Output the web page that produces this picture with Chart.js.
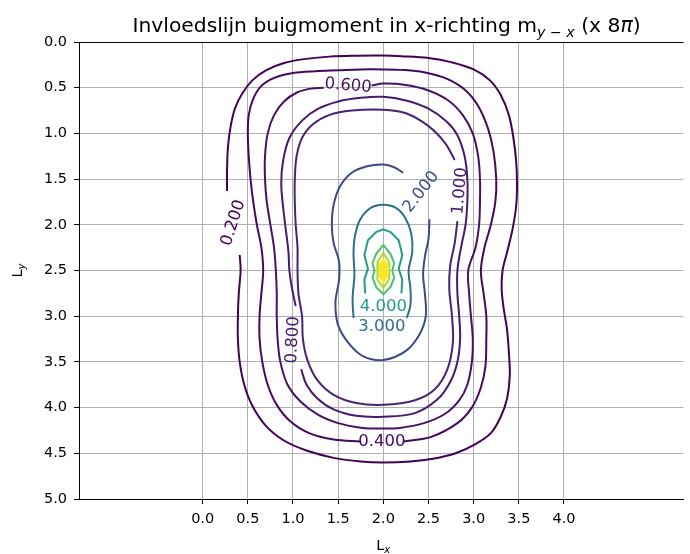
<!DOCTYPE html>
<html>
<head>
<meta charset="utf-8">
<script src="https://cdn.jsdelivr.net/npm/chart.js@4.4.0/dist/chart.umd.min.js"></script>
<style>html,body{margin:0;padding:0;background:#fff;overflow:hidden}</style>
</head>
<body>
<canvas id="chart" width="690" height="554"></canvas>
<script>
// contour levels and their line colours (viridis)
const levels = [0.2, 0.4, 0.6, 0.8, 1.0, 2.0, 3.0, 4.0, 5.0, 6.0, 7.0];
const levelColors = ['#440154', '#46085c', '#471164', '#481a6c', '#482374', '#3e4989', '#2d708e', '#1f9e89', '#4ec36b', '#aadc32', '#fde725'];

// contour paths, [Lx, Ly] pairs, one list per drawn piece
const c020 = [[[0.41,2.33],[0.42,2.5],[0.40,2.75],[0.39,3.0],[0.39,3.25],[0.41,3.5],[0.46,3.75],[0.55,3.98],[0.70,4.2],[0.90,4.36],[1.15,4.47],[1.45,4.55],[1.75,4.59],[2.0,4.6],[2.3,4.59],[2.55,4.56],[2.8,4.5],[3.02,4.4],[3.19,4.28],[3.30,4.1],[3.37,3.9],[3.40,3.65],[3.39,3.4],[3.37,3.15],[3.33,2.9],[3.31,2.7],[3.32,2.5],[3.37,2.3],[3.43,2.05],[3.47,1.8],[3.48,1.55],[3.47,1.3],[3.44,1.05],[3.39,0.8],[3.30,0.58],[3.18,0.42],[3.0,0.3],[2.75,0.22],[2.5,0.175],[2.2,0.155],[2.0,0.148],[1.7,0.15],[1.4,0.16],[1.1,0.19],[0.9,0.23],[0.7,0.31],[0.55,0.42],[0.44,0.56],[0.36,0.72],[0.31,0.92],[0.28,1.15],[0.27,1.4],[0.27,1.63]]];
const c040 = [[[2.22,4.37],[2.53,4.32],[2.82,4.17],[2.98,4.0],[3.08,3.78],[3.13,3.55],[3.14,3.25],[3.14,3.0],[3.11,2.75],[3.08,2.5],[3.12,2.25],[3.19,2.0],[3.24,1.75],[3.25,1.5],[3.22,1.2],[3.16,0.95],[3.05,0.7],[2.9,0.52],[2.7,0.4],[2.45,0.33],[2.2,0.305],[2.0,0.3],[1.75,0.3],[1.5,0.31],[1.25,0.32],[1.0,0.34],[0.8,0.39],[0.65,0.48],[0.56,0.62],[0.51,0.8],[0.5,1.0],[0.51,1.25],[0.53,1.5],[0.56,1.75],[0.6,2.0],[0.65,2.25],[0.67,2.5],[0.65,2.75],[0.63,3.0],[0.63,3.25],[0.66,3.5],[0.72,3.75],[0.82,3.97],[0.97,4.15],[1.18,4.28],[1.45,4.35],[1.75,4.37]]];
const c060 = [[[1.87,0.475],[2.0,0.455],[2.25,0.47],[2.5,0.53],[2.72,0.64],[2.88,0.8],[2.99,1.0],[3.05,1.25],[3.07,1.5],[3.07,1.75],[3.06,2.0],[3.02,2.25],[2.94,2.5],[2.95,2.75],[2.97,3.0],[2.99,3.25],[2.98,3.5],[2.93,3.75],[2.84,3.92],[2.68,4.07],[2.45,4.17],[2.2,4.22],[2.0,4.23],[1.75,4.22],[1.5,4.17],[1.28,4.08],[1.08,3.93],[0.94,3.75],[0.86,3.5],[0.83,3.25],[0.82,3.0],[0.82,2.75],[0.81,2.5],[0.79,2.25],[0.75,2.0],[0.71,1.75],[0.69,1.5],[0.69,1.25],[0.72,1.0],[0.79,0.8],[0.9,0.65],[1.05,0.55],[1.2,0.51],[1.34,0.5]]];
const c080 = [[[1.09,3.58],[1.15,3.75],[1.27,3.9],[1.45,4.02],[1.7,4.09],[2.0,4.1],[2.35,4.06],[2.6,3.91],[2.74,3.72],[2.82,3.5],[2.85,3.25],[2.84,3.0],[2.82,2.75],[2.82,2.5],[2.86,2.25],[2.91,2.0],[2.93,1.75],[2.93,1.5],[2.9,1.25],[2.82,1.02],[2.7,0.87],[2.5,0.73],[2.25,0.64],[2.0,0.6],[1.75,0.61],[1.5,0.65],[1.28,0.73],[1.1,0.86],[0.96,1.05],[0.89,1.3],[0.87,1.55],[0.89,1.8],[0.92,2.05],[0.95,2.3],[0.96,2.5],[0.99,2.7],[1.03,2.89]]];
const c100 = [[[2.82,1.96],[2.79,2.2],[2.74,2.45],[2.73,2.7],[2.76,3.0],[2.77,3.29],[2.71,3.58],[2.57,3.8],[2.35,3.92],[2.0,3.97],[1.7,3.95],[1.45,3.86],[1.27,3.7],[1.16,3.48],[1.11,3.25],[1.1,3.0],[1.06,2.75],[1.05,2.5],[1.05,2.25],[1.03,2.0],[1.02,1.75],[1.02,1.5],[1.04,1.25],[1.1,1.05],[1.22,0.9],[1.4,0.8],[1.65,0.75],[2.0,0.74],[2.25,0.78],[2.5,0.92],[2.68,1.1],[2.79,1.29]]];
const c200 = [[[2.51,1.94],[2.5,2.15],[2.46,2.35],[2.44,2.55],[2.46,2.75],[2.47,3.0],[2.4,3.2],[2.25,3.38],[2.0,3.48],[1.78,3.44],[1.62,3.3],[1.5,3.1],[1.47,2.85],[1.51,2.6],[1.51,2.4],[1.45,2.2],[1.43,2.0],[1.45,1.78],[1.52,1.58],[1.65,1.43],[1.82,1.36],[2.0,1.34],[2.12,1.37],[2.22,1.43]]];
const c300 = [[[1.67,3.02],[1.66,2.8],[1.68,2.55],[1.67,2.3],[1.69,2.1],[1.75,1.93],[1.87,1.81],[2.0,1.78],[2.13,1.81],[2.24,1.92],[2.31,2.1],[2.32,2.3],[2.28,2.5],[2.3,2.7],[2.3,2.88],[2.26,3.02]]];
const c400 = [[[1.8,2.75],[1.79,2.6],[1.83,2.48],[1.79,2.33],[1.83,2.17],[1.92,2.08],[2.0,2.05],[2.08,2.08],[2.17,2.17],[2.21,2.33],[2.17,2.48],[2.21,2.6],[2.2,2.75]]];
const c500 = [[[2.0,2.22],[1.92,2.32],[1.88,2.42],[1.9,2.5],[1.88,2.58],[1.92,2.68],[2.0,2.76],[2.08,2.68],[2.12,2.58],[2.1,2.5],[2.12,2.42],[2.08,2.32],[2.0,2.22]]];
const c600 = [[[2.0,2.31],[1.94,2.4],[1.93,2.5],[1.94,2.6],[2.0,2.69],[2.06,2.6],[2.07,2.5],[2.06,2.4],[2.0,2.31]]];
const c700 = [[[2.0,2.37],[1.96,2.44],[1.955,2.5],[1.96,2.56],[2.0,2.63],[2.04,2.56],[2.045,2.5],[2.04,2.44],[2.0,2.37]]];
const contours = [c020, c040, c060, c080, c100, c200, c300, c400, c500, c600, c700];

// inline contour labels: level index, position and text angle
const labelLevel = [0, 1, 2, 3, 4, 5, 6, 7];
const labelX = [0.34, 1.985, 1.61, 1.0, 2.85, 2.42, 1.985, 2.0];
const labelY = [1.98, 4.37, 0.48, 3.26, 1.63, 1.64, 3.12, 2.9];
const labelAngle = [-72, 0, 5, -87, -85, -52, 0, 0];

// load point
const loadX = [2.0];
const loadY = [2.5];

const xTicks = [0, 0.5, 1, 1.5, 2, 2.5, 3, 3.5, 4];

const FONT = '"DejaVu Sans", sans-serif';

const datasets = [];
contours.forEach((pieces, i) => {
  pieces.forEach(seg => {
    datasets.push({
      data: seg.map(p => ({x: p[0], y: p[1]})),
      showLine: true,
      borderColor: levelColors[i],
      backgroundColor: levelColors[i],
      borderWidth: 2,
      pointRadius: 0,
      tension: i >= 7 ? 0 : 0.35,
      fill: i === 10 ? 'shape' : false
    });
  });
});
datasets.push({
  data: loadX.map((x, i) => ({x, y: loadY[i]})),
  showLine: false,
  pointStyle: 'crossRot',
  pointRadius: 5,
  borderColor: '#ff0000',
  borderWidth: 1.5
});

function drawParts(ctx, parts, x, y, align){
  let w = 0;
  parts.forEach(p => { ctx.font = p.font; w += ctx.measureText(p.t).width; });
  let cx = align === 'center' ? x - w / 2 : x;
  parts.forEach(p => {
    ctx.font = p.font;
    ctx.fillText(p.t, cx, y + (p.dy || 0));
    cx += ctx.measureText(p.t).width;
  });
}

const decorations = {
  id: 'decorations',
  afterDatasetsDraw(chart){
    const ctx = chart.ctx, xs = chart.scales.x, ys = chart.scales.y, a = chart.chartArea;
    ctx.save();
    // contour labels
    ctx.textAlign = 'center';
    ctx.textBaseline = 'middle';
    ctx.font = '16.5px ' + FONT;
    labelLevel.forEach((li, k) => {
      ctx.save();
      ctx.translate(xs.getPixelForValue(labelX[k]), ys.getPixelForValue(labelY[k]));
      ctx.rotate(labelAngle[k] * Math.PI / 180);
      ctx.fillStyle = levelColors[li];
      ctx.fillText(levels[li].toFixed(3), 0, 0);
      ctx.restore();
    });
    // top spine
    ctx.strokeStyle = '#000';
    ctx.lineWidth = 1;
    ctx.beginPath();
    ctx.moveTo(a.left, a.top + 0.5);
    ctx.lineTo(a.right, a.top + 0.5);
    ctx.stroke();
    // title
    ctx.fillStyle = '#000';
    ctx.textAlign = 'left';
    ctx.textBaseline = 'alphabetic';
    const big = '20.3px ' + FONT, small = '14.2px ' + FONT, smallIt = 'italic 14.2px ' + FONT;
    drawParts(ctx, [
      {t: 'Invloedslijn buigmoment in x-richting m', font: big},
      {t: 'y', font: smallIt, dy: 4.5},
      {t: ' \u2212 ', font: small, dy: 4.5},
      {t: 'x', font: smallIt, dy: 4.5},
      {t: ' (x 8', font: big},
      {t: '\u03c0', font: 'italic 20.3px ' + FONT},
      {t: ')', font: big}
    ], 386.5, 32, 'center');
    // axis labels
    const lab = '14.5px ' + FONT, sub = 'italic 10px ' + FONT;
    drawParts(ctx, [{t: 'L', font: lab}, {t: 'x', font: sub, dy: 2.5}], (a.left + a.right) / 2 + 2, 550, 'center');
    ctx.save();
    ctx.translate(22, (a.top + a.bottom) / 2);
    ctx.rotate(-Math.PI / 2);
    drawParts(ctx, [{t: 'L', font: lab}, {t: 'y', font: sub, dy: 2.5}], 0, 0, 'center');
    ctx.restore();
    ctx.restore();
  }
};

new Chart(document.getElementById('chart'), {
  type: 'scatter',
  data: { datasets },
  options: {
    responsive: false,
    devicePixelRatio: 1,
    animation: false,
    layout: { padding: { top: 42, left: 0, right: 0, bottom: 0 } },
    plugins: { legend: { display: false }, tooltip: { enabled: false } },
    scales: {
      x: {
        type: 'linear',
        min: -1.369,
        max: 5.323,
        afterBuildTicks: s => { s.ticks = xTicks.map(v => ({value: v})); },
        afterFit: s => { s.height = 55; },
        grid: { color: '#b0b0b0', lineWidth: 1, tickColor: '#000', tickLength: 5, tickWidth: 1 },
        border: { display: true, color: '#000', width: 1 },
        ticks: { font: { family: FONT, size: 14.5 }, color: '#000', padding: 7, maxRotation: 0, autoSkip: false, callback: v => v.toFixed(1) }
      },
      y: {
        type: 'linear',
        reverse: true,
        min: 0,
        max: 5,
        afterFit: s => { s.width = 79; },
        grid: { color: '#b0b0b0', lineWidth: 1, tickColor: '#000', tickLength: 5, tickWidth: 1 },
        border: { display: true, color: '#000', width: 1 },
        ticks: { stepSize: 0.5, font: { family: FONT, size: 14.5 }, color: '#000', padding: 7, callback: v => v.toFixed(1) }
      }
    }
  },
  plugins: [decorations]
});
</script>
</body>
</html>
